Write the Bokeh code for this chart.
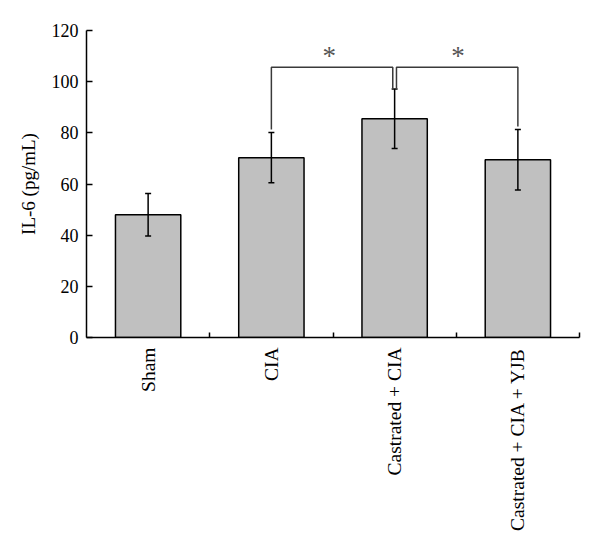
import numpy as np
from bokeh.plotting import figure
from bokeh.models import Range1d, FixedTicker, ColumnDataSource, Whisker, TeeHead
from bokeh.core.properties import value
from bokeh.embed import file_html
from bokeh.resources import INLINE

categories = ["Sham", "CIA", "Castrated + CIA", "Castrated + CIA + YJB"]
means = [48.0, 70.3, 85.5, 69.5]
errors = [8.3, 9.8, 11.6, 11.8]
y_ticks = [0, 20, 40, 60, 80, 100, 120]
comparisons = [(1, 2), (2, 3)]
bracket_level = 105.6
sig_labels = ["*", "*"]

FONT = "Liberation Serif"

x = np.arange(len(categories)) + 0.5
means_a = np.array(means)
err_a = np.array(errors)
src = ColumnDataSource(dict(x=x, top=means_a, upper=means_a + err_a, lower=means_a - err_a))

p = figure(width=600, height=547,
           min_border_left=86, min_border_right=21, min_border_top=30, min_border_bottom=210,
           x_range=Range1d(0, len(categories)), y_range=Range1d(0, 120),
           output_backend="svg", toolbar_location=None)
p.outline_line_color = None
p.xgrid.visible = False
p.ygrid.visible = False

p.vbar(x="x", top="top", width=0.53, source=src, fill_color="#c0c0c0",
       line_color="black", line_width=1.5)

w = Whisker(source=src, base="x", upper="upper", lower="lower", line_color="black", line_width=1.5,
            level="overlay",
            upper_head=TeeHead(size=6, line_color="black", line_width=1.5),
            lower_head=TeeHead(size=6, line_color="black", line_width=1.5))
p.add_layout(w)

# significance brackets
xs, ys = [], []
tx, ty = [], []
off = 0.015
star_shift = [-0.03, 0.015]
for i, (a, b) in enumerate(comparisons):
    xa = x[a] + (off if a == 2 else 0)
    xb = x[b] - (off if b == 2 else 0)
    ya = means[a] + errors[a] + (0.4 if a == 2 else 1.2)
    yb = means[b] + errors[b] + (0.4 if b == 2 else 1.2)
    xs.append([xa, xa, xb, xb])
    ys.append([ya, bracket_level, bracket_level, yb])
    tx.append((x[a] + x[b]) / 2 + star_shift[i])
    ty.append(bracket_level + 4.5)
p.multi_line(xs, ys, line_color="#3a3a3a", line_width=1.5)
p.text(tx, ty, text=sig_labels, text_font=value(FONT), text_font_size="27px",
       text_color="#555555", text_align="center", text_baseline="middle")

# axes
xa_ = p.xaxis[0]
xa_.ticker = FixedTicker(ticks=list(x), minor_ticks=list(np.arange(1, len(categories) + 1)))
xa_.major_label_overrides = {float(v): c for v, c in zip(x, categories)}
xa_.major_label_orientation = np.pi / 2
xa_.major_tick_in = 0
xa_.major_tick_out = 0
xa_.minor_tick_in = 5
xa_.minor_tick_out = 0
xa_.minor_tick_line_color = "black"
xa_.minor_tick_line_width = 1.5
xa_.axis_line_width = 1.5
xa_.axis_line_color = "black"
xa_.major_label_text_font = FONT
xa_.major_label_text_font_size = "19.5px"
xa_.major_label_text_color = "black"
xa_.major_label_standoff = 10

ya_ = p.yaxis[0]
ya_.ticker = FixedTicker(ticks=y_ticks, minor_ticks=[])
ya_.major_tick_in = 6
ya_.major_tick_out = 0
ya_.major_tick_line_width = 1.5
ya_.major_tick_line_color = "black"
ya_.axis_line_width = 1.5
ya_.axis_line_color = "black"
ya_.major_label_text_font = FONT
ya_.major_label_text_font_size = "18px"
ya_.major_label_text_color = "black"
ya_.major_label_standoff = 8
ya_.axis_label = "IL-6 (pg/mL)"
ya_.axis_label_text_font = FONT
ya_.axis_label_text_font_size = "19px"
ya_.axis_label_text_font_style = "normal"
ya_.axis_label_text_color = "black"
ya_.axis_label_standoff = 10

open("out.html", "w").write(file_html(p, INLINE))
